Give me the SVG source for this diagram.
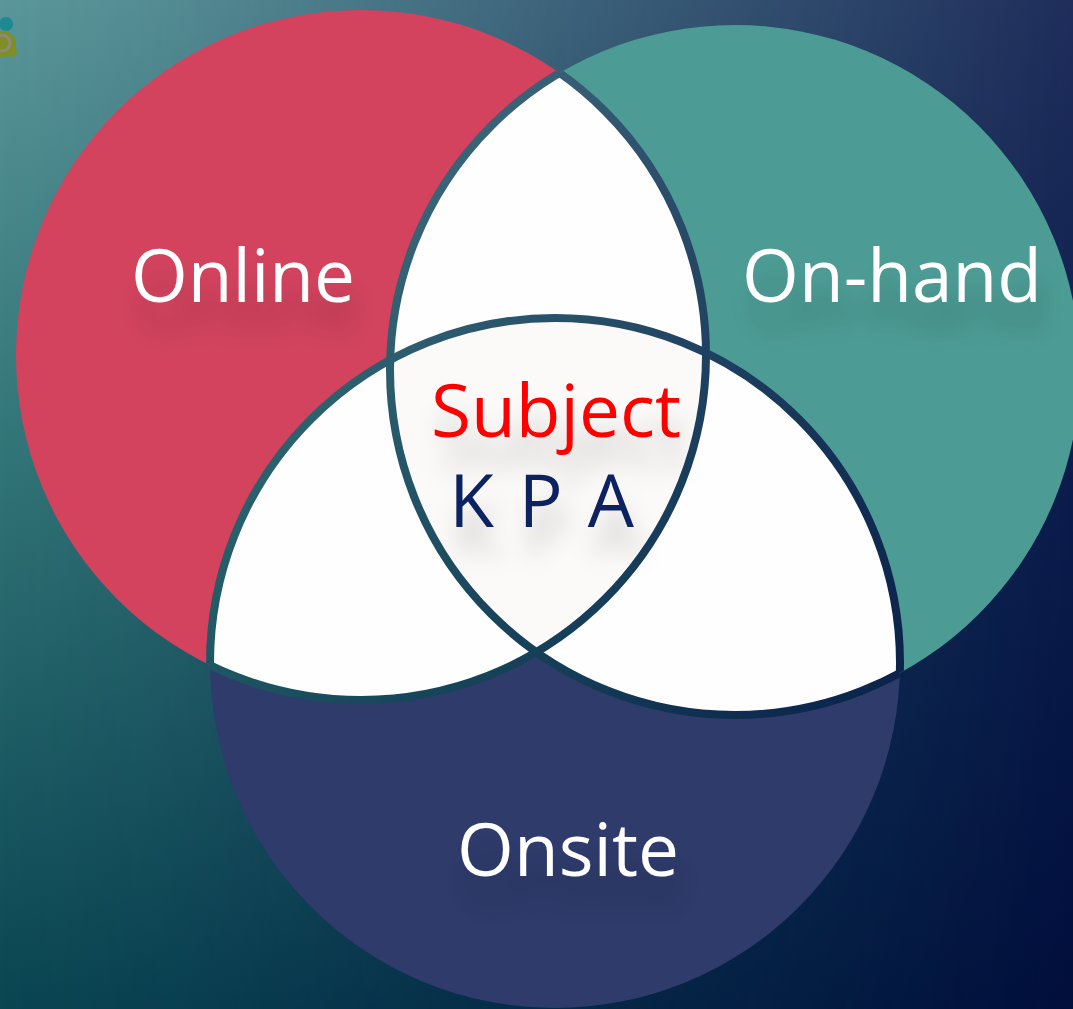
<svg xmlns="http://www.w3.org/2000/svg" xmlns:xlink="http://www.w3.org/1999/xlink" width="1073" height="1009" viewBox="0 0 1073 1009">
  <style>
    .lbl { font-family: "Open Sans", "Noto Sans", "Liberation Sans", sans-serif; font-size: 73px; text-anchor: middle; }
    .white { fill: #ffffff; }
  </style>
  <defs>
    <linearGradient id="bgV" gradientUnits="userSpaceOnUse" x1="0" y1="0" x2="0" y2="1009">
      <stop offset="0" stop-color="#5b979a"/>
      <stop offset="0.45" stop-color="#327577"/>
      <stop offset="1" stop-color="#0a4552"/>
    </linearGradient>
    <linearGradient id="navyV" gradientUnits="userSpaceOnUse" x1="0" y1="0" x2="0" y2="1009">
      <stop offset="0" stop-color="#1f2d5b"/>
      <stop offset="0.5" stop-color="#0a1b4b"/>
      <stop offset="1" stop-color="#010e3c"/>
    </linearGradient>
    <linearGradient id="fadeH" gradientUnits="userSpaceOnUse" x1="0" y1="0" x2="1073" y2="0">
      <stop offset="0" stop-color="#000"/>
      <stop offset="0.15" stop-color="#1a1a1a"/>
      <stop offset="1" stop-color="#fff"/>
    </linearGradient>
    <mask id="fadeMask" maskUnits="userSpaceOnUse" x="0" y="0" width="1073" height="1009">
      <rect x="0" y="0" width="1073" height="1009" fill="url(#fadeH)"/>
    </mask>
    <g id="bg">
      <rect x="0" y="0" width="1073" height="1009" fill="url(#bgV)"/>
      <rect x="0" y="0" width="1073" height="1009" fill="url(#navyV)" mask="url(#fadeMask)"/>
    </g>
    <circle id="cA" cx="361" cy="355" r="345"/>
    <circle id="cB" cx="735" cy="370" r="345"/>
    <circle id="cC" cx="555" cy="663" r="345"/>
    <clipPath id="clipB"><use xlink:href="#cB"/></clipPath>
    <clipPath id="clipC"><use xlink:href="#cC"/></clipPath>
    <clipPath id="clipBC"><use xlink:href="#cB"/><use xlink:href="#cC"/></clipPath>
    <clipPath id="clipAC"><use xlink:href="#cA"/><use xlink:href="#cC"/></clipPath>
    <clipPath id="clipAB"><use xlink:href="#cA"/><use xlink:href="#cB"/></clipPath>
    <mask id="lineMask" maskUnits="userSpaceOnUse" x="0" y="0" width="1073" height="1009">
      <g fill="none" stroke="#fff" stroke-width="8">
        <use xlink:href="#cA" clip-path="url(#clipBC)"/>
        <use xlink:href="#cB" clip-path="url(#clipAC)"/>
        <use xlink:href="#cC" clip-path="url(#clipAB)"/>
      </g>
    </mask>
    <filter id="shadow" x="-20%" y="-40%" width="140%" height="220%">
      <feGaussianBlur in="SourceAlpha" stdDeviation="12" result="b"/>
      <feOffset in="b" dx="6" dy="30" result="o"/>
      <feFlood flood-color="#000" flood-opacity="0.2"/>
      <feComposite in2="o" operator="in" result="s"/>
      <feMerge><feMergeNode in="s"/><feMergeNode in="SourceGraphic"/></feMerge>
    </filter>
  </defs>

  <use xlink:href="#bg"/>

  <g id="logo">
    <circle cx="6" cy="24" r="7" fill="#1d8a92"/>
    <circle cx="3" cy="44" r="13" fill="#7f8f26"/>
    <circle cx="12" cy="52" r="5" fill="#7f8f26"/>
    <circle cx="2" cy="43" r="8" fill="none" stroke="#8c8a7c" stroke-width="3"/>
  </g>

  <g id="online">
    <use xlink:href="#cA" fill="#d3435e"/>
  </g>
  <g id="on-hand">
    <use xlink:href="#cB" fill="#4c9c95"/>
  </g>
  <g id="onsite">
    <use xlink:href="#cC" fill="#2e3b6b"/>
  </g>

  <g id="overlaps">
    <use xlink:href="#cA" fill="#fefefe" clip-path="url(#clipBC)"/>
    <use xlink:href="#cB" fill="#fefefe" clip-path="url(#clipC)"/>
  </g>

  <g id="subject">
    <g clip-path="url(#clipC)">
      <use xlink:href="#cA" fill="#fbfaf8" clip-path="url(#clipB)"/>
    </g>
  </g>

  <g id="outlines">
    <use xlink:href="#bg" mask="url(#lineMask)"/>
  </g>

  <g id="labels" filter="url(#shadow)">
    <text class="lbl white" x="243" y="302">Online</text>
    <text class="lbl white" x="892" y="302">On-hand</text>
    <text class="lbl white" x="568" y="876">Onsite</text>
    <text class="lbl" x="556" y="437" fill="#ff0000">Subject</text>
    <text class="lbl" x="543" y="527" fill="#0a2060" font-size="70" letter-spacing="3">K P A</text>
  </g>
</svg>
